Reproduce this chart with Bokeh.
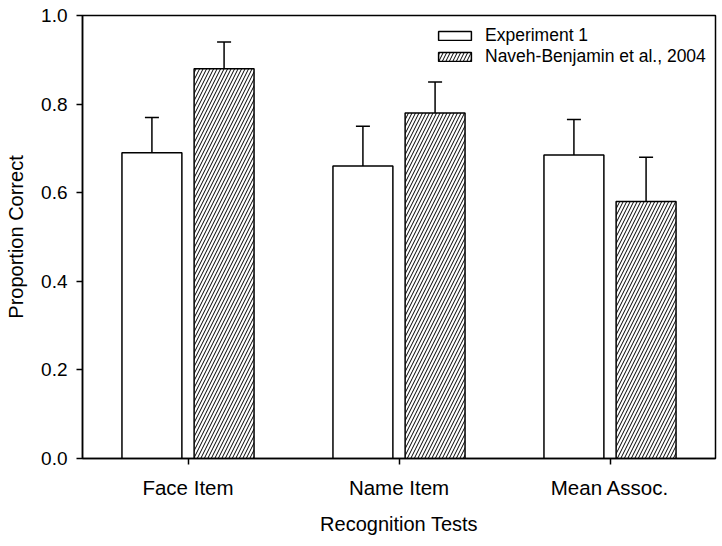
from bokeh.plotting import figure
from bokeh.models import (ColumnDataSource, FactorRange, Whisker, TeeHead, Legend, LegendItem,
                          FixedTicker, PrintfTickFormatter)
from bokeh.transform import dodge
from bokeh.embed import file_html
from bokeh.resources import INLINE

categories = ["Face Item", "Name Item", "Mean Assoc."]
exp1_mean = [0.69, 0.66, 0.685]
exp1_low = [0.61, 0.57, 0.605]
exp1_high = [0.77, 0.75, 0.765]
nb_mean = [0.88, 0.78, 0.58]
nb_low = [0.82, 0.71, 0.48]
nb_high = [0.94, 0.85, 0.68]
y_ticks = [0.0, 0.2, 0.4, 0.6, 0.8, 1.0]

FONT = "Liberation Sans"

src = ColumnDataSource(data=dict(
    cat=categories,
    e_m=exp1_mean, e_lo=exp1_low, e_hi=exp1_high,
    n_m=nb_mean, n_lo=nb_low, n_hi=nb_high,
))

p = figure(x_range=FactorRange(*categories, range_padding=0), y_range=(0, 1.0),
           width=718, height=540, output_backend="svg", toolbar_location=None,
           min_border_left=82, min_border_right=3, min_border_top=15, min_border_bottom=82)

off = 0.171
bw = 0.284
r1 = p.vbar(x=dodge("cat", -off, range=p.x_range), top="e_m", width=bw, bottom=0, source=src,
            fill_color="white", line_color="black", line_width=1.5)
r2 = p.vbar(x=dodge("cat", off, range=p.x_range), top="n_m", width=bw, bottom=0, source=src,
            fill_color="white", line_color="black", line_width=1.5,
            hatch_pattern="/", hatch_color="black", hatch_scale=7, hatch_weight=1)

for xs, lo, hi in ((-off, "e_lo", "e_hi"), (off, "n_lo", "n_hi")):
    w = Whisker(base=dodge("cat", xs, range=p.x_range), lower=lo, upper=hi, source=src,
                line_color="black", line_width=1.5,
                upper_head=TeeHead(size=14, line_color="black", line_width=1.5),
                lower_head=TeeHead(size=14, line_color="black", line_width=1.5))
    p.add_layout(w)

legend = Legend(items=[LegendItem(label="Experiment 1", renderers=[r1]),
                       LegendItem(label="Naveh-Benjamin et al., 2004", renderers=[r2])],
                location=(352, 391), padding=0, margin=0, spacing=0,
                glyph_width=41, glyph_height=11, label_standoff=10, label_height=20,
                label_text_font=FONT, label_text_font_size="17.5px", label_text_color="black",
                border_line_color=None, background_fill_alpha=0)
p.add_layout(legend)

p.grid.visible = False
p.outline_line_color = "black"
p.outline_line_width = 1.5

p.yaxis.ticker = FixedTicker(ticks=y_ticks)
p.yaxis.formatter = PrintfTickFormatter(format="%.1f")
p.yaxis.minor_tick_line_color = None
p.yaxis.major_tick_in = 0
p.yaxis.major_tick_out = 6
p.yaxis.major_label_standoff = 9
p.yaxis.major_label_text_font = FONT
p.yaxis.major_label_text_font_size = "19px"
p.yaxis.axis_label = "Proportion Correct"
p.yaxis.axis_label_standoff = 11

p.xaxis.major_tick_in = 0
p.xaxis.major_tick_out = 6
p.xaxis.major_label_standoff = 11
p.xaxis.major_label_text_font = FONT
p.xaxis.major_label_text_font_size = "20.5px"
p.xaxis.axis_label = "Recognition Tests"
p.xaxis.axis_label_standoff = 11

for ax in (p.xaxis, p.yaxis):
    ax.axis_line_color = "black"
    ax.axis_line_width = 1.5
    ax.major_tick_line_color = "black"
    ax.major_tick_line_width = 1.5
    ax.major_label_text_color = "black"
    ax.axis_label_text_font = FONT
    ax.axis_label_text_font_size = "20px"
    ax.axis_label_text_font_style = "normal"
    ax.axis_label_text_color = "black"

open("out.html", "w").write(file_html(p, INLINE))
